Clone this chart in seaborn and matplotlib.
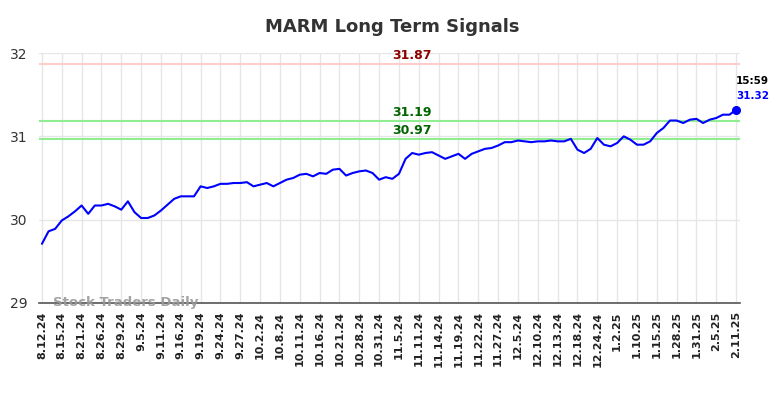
import numpy as np
import pandas as pd
import matplotlib
matplotlib.use("Agg")
import matplotlib.pyplot as plt
import seaborn as sns

# closing prices
prices = [
    29.71, 29.86, 29.89, 29.99, 30.04, 30.10, 30.17, 30.07, 30.17, 30.17,
    30.19, 30.16, 30.12, 30.22, 30.09, 30.02, 30.02, 30.05, 30.11, 30.18,
    30.25, 30.28, 30.28, 30.28, 30.40, 30.38, 30.40, 30.43, 30.43, 30.44,
    30.44, 30.45, 30.40, 30.42, 30.44, 30.40, 30.44, 30.48, 30.50, 30.54,
    30.55, 30.52, 30.56, 30.55, 30.60, 30.61, 30.53, 30.56, 30.58, 30.59,
    30.56, 30.48, 30.51, 30.49, 30.55, 30.73, 30.80, 30.78, 30.80, 30.81,
    30.77, 30.73, 30.76, 30.79, 30.73, 30.79, 30.82, 30.85, 30.86, 30.89,
    30.93, 30.93, 30.95, 30.94, 30.93, 30.94, 30.94, 30.95, 30.94, 30.94,
    30.97, 30.84, 30.80, 30.85, 30.98, 30.90, 30.88, 30.92, 31.00, 30.96,
    30.90, 30.90, 30.94, 31.04, 31.10, 31.19, 31.19, 31.16, 31.20, 31.21,
    31.16, 31.20, 31.22, 31.26, 31.26, 31.32,
]

tick_labels = [
    "8.12.24", "8.15.24", "8.21.24", "8.26.24", "8.29.24", "9.5.24",
    "9.11.24", "9.16.24", "9.19.24", "9.24.24", "9.27.24", "10.2.24",
    "10.8.24", "10.11.24", "10.16.24", "10.21.24", "10.28.24", "10.31.24",
    "11.5.24", "11.11.24", "11.14.24", "11.19.24", "11.22.24", "11.27.24",
    "12.5.24", "12.10.24", "12.13.24", "12.18.24", "12.24.24", "1.2.25",
    "1.10.25", "1.15.25", "1.28.25", "1.31.25", "2.5.25", "2.11.25",
]

resistance = 31.87
supports = [31.19, 30.97]
last_time = "15:59"

df = pd.DataFrame({"idx": np.arange(len(prices)), "price": prices})

sns.set_style("white")
plt.rcParams["font.family"] = ["DejaVu Sans"]

fig = plt.figure(figsize=(7.84, 3.98), dpi=100)
ax = fig.add_axes([0.0497, 0.2387, 0.8943, 0.6281])

sns.lineplot(data=df, x="idx", y="price", ax=ax, color="#0000ff", linewidth=1.5)

# signal lines
ax.axhline(resistance, color="#ffcccc", linewidth=1.5, zorder=1)
for s in supports:
    ax.axhline(s, color="#90ee90", linewidth=1.5, zorder=1)

mid = 55.9
ax.text(mid, resistance + 0.02, f"{resistance:.2f}", color="#8b0000",
        fontsize=9, fontweight="bold", ha="center", va="bottom")
for s in supports:
    ax.text(mid, s + 0.02, f"{s:.2f}", color="#006400",
            fontsize=9, fontweight="bold", ha="center", va="bottom")

# last point
last_i = len(prices) - 1
ax.plot(last_i, prices[-1], "o", color="#0000ff", markersize=5.5, zorder=5)
ax.text(last_i, prices[-1] + 0.28, last_time, color="black",
        fontsize=7.5, fontweight="bold", ha="left", va="bottom")
ax.text(last_i, prices[-1] + 0.11, f"{prices[-1]:.2f}", color="#0000ff",
        fontsize=7.5, fontweight="bold", ha="left", va="bottom")

ax.text(1.7, 29.0, "Stock Traders Daily", color="#999999", fontsize=9.5,
        fontweight="bold", ha="left", va="center", alpha=0.9)

ax.set_xlim(-0.45, 105.6)
ax.set_ylim(29, 32)
ax.set_xticks(np.arange(0, len(prices), 3))
ax.set_xticklabels(tick_labels, rotation=90, fontsize=8, fontweight="bold",
                   color="#222222")
ax.set_yticks([29, 30, 31, 32])
ax.tick_params(axis="y", labelsize=10, colors="#333333", length=0, pad=8)
ax.tick_params(axis="x", length=0, pad=6)
ax.grid(True, color="#e6e6e6", linewidth=1)
ax.set_axisbelow(True)
ax.set_xlabel("")
ax.set_ylabel("")
for side in ["top", "right", "left"]:
    ax.spines[side].set_visible(False)
ax.spines["bottom"].set_color("#555555")
ax.spines["bottom"].set_linewidth(1.2)

fig.suptitle("MARM Long Term Signals", fontsize=13, fontweight="bold",
             color="#333333", y=0.955)

fig.savefig("out.png", dpi=100)
